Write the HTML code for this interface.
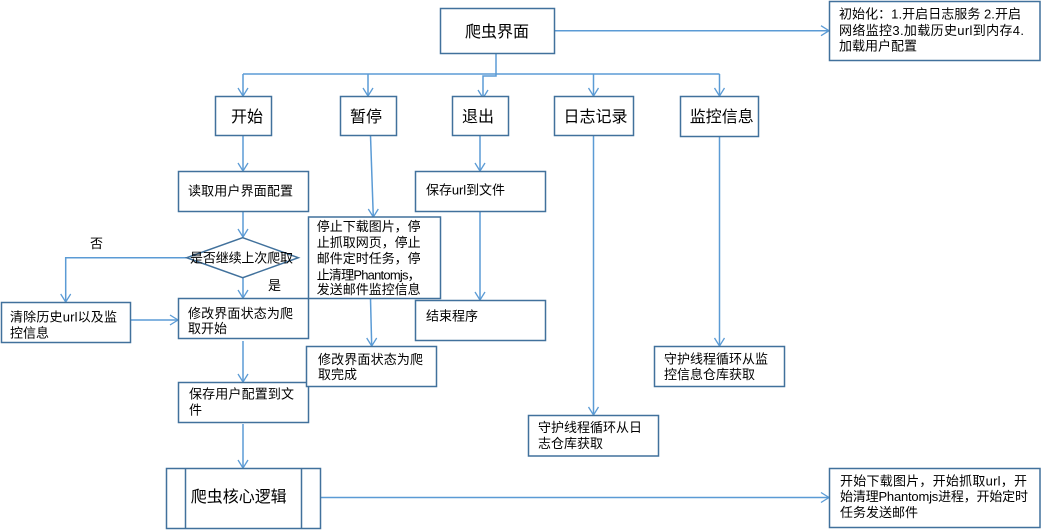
<!DOCTYPE html>
<html><head><meta charset="utf-8">
<style>
html,body{margin:0;padding:0;background:#fff;}
svg{display:block;}
text{font-family:"Liberation Sans","Noto Sans CJK SC","WenQuanYi Zen Hei",sans-serif;fill:#000;}
.t{font-size:13px;}
.h{font-size:16px;}
.b{fill:#fff;stroke:#41719c;stroke-width:1.5;}
.c{fill:none;stroke:#5b9bd5;stroke-width:1.5;}
.a{fill:none;stroke:#5b9bd5;stroke-width:1.3;}
</style></head>
<body>
<svg width="1041" height="530" viewBox="0 0 1041 530" xmlns="http://www.w3.org/2000/svg">
<!-- connectors -->
<path class="c" d="M496,53.5 V76 H483 V97"/>
<path class="a" d="M478,90 L483,98 L488,90"/>
<path class="c" d="M243,74 H719.5"/>
<path class="c" d="M243,74 V96"/><path class="a" d="M238,88 L243,96 L248,88"/>
<path class="c" d="M368,74 V96"/><path class="a" d="M363,88 L368,96 L373,88"/>
<path class="c" d="M593.5,74 V96"/><path class="a" d="M588.5,88 L593.5,96 L598.5,88"/>
<path class="c" d="M719.5,74 V96"/><path class="a" d="M714.5,88 L719.5,96 L724.5,88"/>
<path class="c" d="M554,30.7 H829"/><path class="a" d="M821,25.7 L829,30.7 L821,35.7"/>

<path class="c" d="M243,135.5 V171"/><path class="a" d="M238,163 L243,171 L248,163"/>
<path class="c" d="M243,211.5 V237"/><path class="a" d="M238,229 L243,237 L248,229"/>
<path class="c" d="M187,257.7 H65.7 V302"/><path class="a" d="M60.7,294 L65.7,302 L70.7,294"/>
<path class="c" d="M130.5,320 H178"/><path class="a" d="M170,315 L178,320 L170,325"/>
<path class="c" d="M243,277.7 V298"/><path class="a" d="M238,290 L243,298 L248,290"/>
<path class="c" d="M243,341 V382"/><path class="a" d="M238,374 L243,382 L248,374"/>
<path class="c" d="M243,424 V468"/><path class="a" d="M238,460 L243,468 L248,460"/>
<path class="c" d="M320.5,497.5 H829"/><path class="a" d="M821,492.5 L829,497.5 L821,502.5"/>

<path class="c" d="M370.5,135.5 L373.3,217"/><path class="a" d="M368.3,209 L373.3,217 L378.3,209"/>
<path class="c" d="M370.5,298.5 L371.7,346"/><path class="a" d="M366.7,338 L371.7,346 L376.7,338"/>

<path class="c" d="M480,135.5 V171"/><path class="a" d="M475,163 L480,171 L485,163"/>
<path class="c" d="M480,211.5 V300"/><path class="a" d="M475,292 L480,300 L485,292"/>

<path class="c" d="M593.5,135.5 V415"/><path class="a" d="M588.5,407 L593.5,415 L598.5,407"/>
<path class="c" d="M719.5,136.5 V346"/><path class="a" d="M714.5,338 L719.5,346 L724.5,338"/>

<!-- boxes -->
<rect class="b" x="440.5" y="8.5" width="114" height="45"/>
<text class="h" x="497" y="37" text-anchor="middle">爬虫界面</text>

<rect class="b" x="829.5" y="1.5" width="210.5" height="59"/>
<text class="t" x="839" y="18.5" textLength="182" lengthAdjust="spacing">初始化：1.开启日志服务 2.开启</text>
<text class="t" x="839" y="35" textLength="185" lengthAdjust="spacing">网络监控3.加载历史url到内存4.</text>
<text class="t" x="839" y="50.5" textLength="78" lengthAdjust="spacing">加载用户配置</text>

<rect class="b" x="215.5" y="96.5" width="56" height="39"/>
<text class="h" x="247" y="122" text-anchor="middle">开始</text>
<rect class="b" x="340.5" y="96.5" width="56" height="39"/>
<text class="h" x="366" y="122" text-anchor="middle">暂停</text>
<rect class="b" x="452.5" y="96.5" width="56" height="39"/>
<text class="h" x="478" y="122" text-anchor="middle">退出</text>
<rect class="b" x="554.5" y="96.5" width="79" height="39"/>
<text class="h" x="595.5" y="122" text-anchor="middle">日志记录</text>
<rect class="b" x="680.5" y="96.5" width="78" height="40"/>
<text class="h" x="721.7" y="122" text-anchor="middle">监控信息</text>

<rect class="b" x="178.5" y="171.5" width="130" height="40"/>
<text class="t" x="188" y="195.5" textLength="105" lengthAdjust="spacing">读取用户界面配置</text>

<polygon class="b" points="242.7,237.7 298.3,257.7 242.7,277.7 186.7,257.7"/>
<text class="t" x="190" y="262.5" textLength="103" lengthAdjust="spacing">是否继续上次爬取</text>
<text class="t" x="90" y="248">否</text>
<text class="t" x="268" y="290">是</text>

<rect class="b" x="1.5" y="302.5" width="129" height="40"/>
<text class="t" x="10" y="321.5" textLength="107" lengthAdjust="spacing">清除历史url以及监</text>
<text class="t" x="10" y="337.5" textLength="39" lengthAdjust="spacing">控信息</text>

<rect class="b" x="178.5" y="298.5" width="130" height="40"/>
<text class="t" x="188" y="318" textLength="105" lengthAdjust="spacing">修改界面状态为爬</text>
<text class="t" x="188" y="333" textLength="39" lengthAdjust="spacing">取开始</text>

<rect class="b" x="178.5" y="382.5" width="130" height="40"/>
<text class="t" x="189" y="398.5" textLength="105" lengthAdjust="spacing">保存用户配置到文</text>
<text class="t" x="189" y="414.5">件</text>

<rect class="b" x="166.5" y="468.5" width="154" height="60"/>
<line x1="185.5" y1="468.5" x2="185.5" y2="528.5" stroke="#41719c" stroke-width="1.5"/>
<line x1="301.5" y1="468.5" x2="301.5" y2="528.5" stroke="#41719c" stroke-width="1.5"/>
<text class="h" x="190.7" y="502" textLength="96" lengthAdjust="spacing">爬虫核心逻辑</text>

<rect class="b" x="308.5" y="217" width="132" height="81.5"/>
<text class="t" x="316.7" y="231" textLength="104" lengthAdjust="spacing">停止下载图片，停</text>
<text class="t" x="316.7" y="247" textLength="104" lengthAdjust="spacing">止抓取网页，停止</text>
<text class="t" x="316.7" y="263" textLength="104" lengthAdjust="spacing">邮件定时任务，停</text>
<text class="t" x="316.7" y="279.5" textLength="104" lengthAdjust="spacing">止清理Phantomjs，</text>
<text class="t" x="316.7" y="294" textLength="104" lengthAdjust="spacing">发送邮件监控信息</text>

<rect class="b" x="415.5" y="171.5" width="130" height="40"/>
<text class="t" x="426" y="194.5" textLength="79" lengthAdjust="spacing">保存url到文件</text>
<rect class="b" x="415.5" y="300.5" width="130" height="40"/>
<text class="t" x="426" y="320.5" textLength="52" lengthAdjust="spacing">结束程序</text>

<rect class="b" x="306.5" y="346.5" width="130" height="40"/>
<text class="t" x="318" y="364" textLength="105" lengthAdjust="spacing">修改界面状态为爬</text>
<text class="t" x="318" y="379" textLength="39" lengthAdjust="spacing">取完成</text>

<rect class="b" x="528.5" y="415.5" width="130" height="40.5"/>
<text class="t" x="538" y="432" textLength="104" lengthAdjust="spacing">守护线程循环从日</text>
<text class="t" x="538" y="448" textLength="65" lengthAdjust="spacing">志仓库获取</text>

<rect class="b" x="654.5" y="346.5" width="130" height="40"/>
<text class="t" x="664" y="363.5" textLength="104" lengthAdjust="spacing">守护线程循环从监</text>
<text class="t" x="664" y="379" textLength="91" lengthAdjust="spacing">控信息仓库获取</text>

<rect class="b" x="829.5" y="468.5" width="210.5" height="59"/>
<text class="t" x="840" y="485.5" textLength="187" lengthAdjust="spacing">开始下载图片，开始抓取url，开</text>
<text class="t" x="840" y="501" textLength="188" lengthAdjust="spacing">始清理Phantomjs进程，开始定时</text>
<text class="t" x="840" y="517" textLength="78" lengthAdjust="spacing">任务发送邮件</text>
</svg>
</body></html>
